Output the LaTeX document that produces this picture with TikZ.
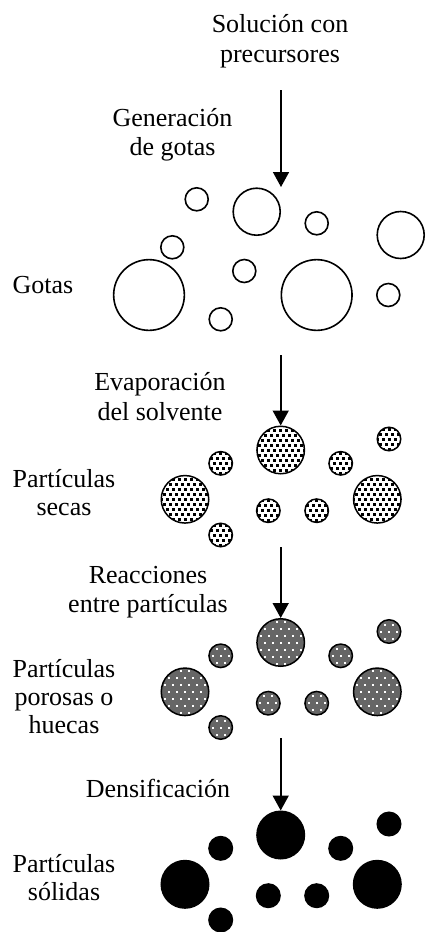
\documentclass[tikz,border=0pt]{standalone}
\usepackage{fontspec}
\setmainfont{Liberation Serif}
\usetikzlibrary{arrows.meta}
\newcommand\partgroup[3]{%
  \node[#3, bigp]   (#1top) at (280.7,#2) {};
  \node[#3, smallp] (#1tr)  at (389,#2-11) {};
  \node[#3, smallp] (#1sa)  at (220.7,#2+13.3) {};
  \node[#3, smallp] (#1sb)  at (340.7,#2+13.3) {};
  \node[#3, bigp]   (#1bl)  at (185,#2+49.3) {};
  \node[#3, bigp]   (#1br)  at (377.3,#2+49.3) {};
  \node[#3, smallp] (#1sc)  at (268.3,#2+60.7) {};
  \node[#3, smallp] (#1sd)  at (316.7,#2+60.7) {};
  \node[#3, smallp] (#1se)  at (220.7,#2+85) {};
}
\begin{document}
\begin{tikzpicture}[x=1pt,y=-1pt,
  lbl/.style={font=\fontsize{26}{30}\selectfont, inner sep=0pt, anchor=base},
  drop/.style={circle, draw, line width=1.6pt, inner sep=0pt},
  ds/.style={minimum size=23pt},
  dm/.style={minimum size=47pt},
  db/.style={minimum size=70.7pt},
  bigp/.style={minimum size=47.5pt},
  smallp/.style={minimum size=23.5pt},
  dry/.style={circle, draw, line width=1.5pt, inner sep=0pt, fill=white,
    path picture={
      \foreach \j in {-6,...,6}{\foreach \i in {-5,...,5}{
        \fill[black] ([shift={({\i*6+Mod(\j,2)*3-1.5},{\j*5-1.5})}]path picture bounding box.center) rectangle ++(3,3);}}}},
  porous/.style={circle, draw, line width=1.5pt, inner sep=0pt, fill=black!60,
    path picture={
      \foreach \j in {-4,...,4}{\foreach \i in {-4,...,4}{
        \fill[white] ([shift={({\i*8+Mod(\j,2)*4-1},{\j*7-1})}]path picture bounding box.center) rectangle ++(2,2);}}}},
  solid/.style={circle, draw, line width=1.5pt, inner sep=0pt, fill=black},
  flow/.style={-{Triangle[length=15pt,width=16pt]}, line width=1.6pt}]
\useasboundingbox (0,0) rectangle (427,932);

% labels
\node[lbl] (t1) at (280,32) {Solución con};
\node[lbl] (t2) at (280,62) {precursores};
\node[lbl] (g1) at (172.5,126) {Generación};
\node[lbl] (g2) at (172.5,155) {de gotas};
\node[lbl] (gl) at (43,293) {Gotas};
\node[lbl] (e1) at (160,390) {Evaporación};
\node[lbl] (e2) at (160,420) {del solvente};
\node[lbl] (p1) at (64,487) {Partículas};
\node[lbl] (p2) at (64,515) {secas};
\node[lbl] (r1) at (148,583) {Reacciones};
\node[lbl] (r2) at (148,612) {entre partículas};
\node[lbl] (q1) at (64,677) {Partículas};
\node[lbl] (q2) at (64,705) {porosas o};
\node[lbl] (q3) at (64,733) {huecas};
\node[lbl] (d1) at (158,797) {Densificación};
\node[lbl] (s1) at (64,872) {Partículas};
\node[lbl] (s2) at (64,900) {sólidas};

% droplets
\node[drop, ds] (ga) at (196.7,199.3) {};
\node[drop, dm] (gb) at (256.7,211.7) {};
\node[drop, ds] (gc) at (316.7,223.3) {};
\node[drop, dm] (gd) at (400.7,235) {};
\node[drop, ds] (ge) at (172.3,247.3) {};
\node[drop, db] (gf) at (149,295) {};
\node[drop, ds] (gg) at (244.3,271) {};
\node[drop, db] (gh) at (316.7,295) {};
\node[drop, ds] (gi) at (388.3,295) {};
\node[drop, ds] (gj) at (220.7,319.3) {};

% particle groups
\partgroup{d}{450}{dry}
\partgroup{p}{642.5}{porous}
\partgroup{s}{835}{solid}

% arrows
\coordinate (a1s) at (281,90);
\coordinate (a1e) at (281,187);
\coordinate (a2s) at (280.7,355);
\coordinate (a3s) at (280.7,547);
\coordinate (a4s) at (280.7,738);
\draw[flow] (a1s) -- (a1e);
\draw[flow] (a2s) -- (dtop.north);
\draw[flow] (a3s) -- (ptop.north);
\draw[flow] (a4s) -- (stop.north);
\end{tikzpicture}
\end{document}
